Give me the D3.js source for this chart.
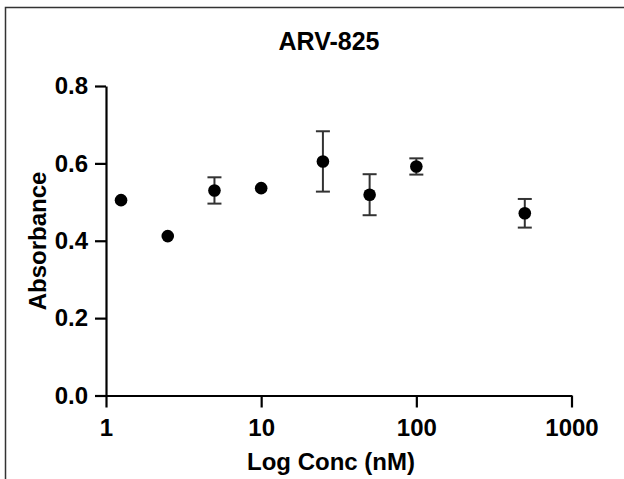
<!DOCTYPE html>
<html>
<head>
<meta charset="utf-8">
<script src="https://cdn.jsdelivr.net/npm/d3@7"></script>
<style>
  body { margin: 0; background: #fff; }
  text { font-family: "Liberation Sans", Arial, Helvetica, sans-serif; font-weight: bold; fill: #000; }
</style>
</head>
<body>
<div id="chart"></div>
<script>
// data
const conc = [1.25, 2.5, 5, 10, 25, 50, 100, 500];
const absorbance = [0.505, 0.412, 0.530, 0.536, 0.605, 0.519, 0.592, 0.471];
const sd = [0, 0, 0.034, 0, 0.078, 0.053, 0.021, 0.037];
const xTicks = [1, 10, 100, 1000];
const yTicks = [0, 0.2, 0.4, 0.6, 0.8];

const data = conc.map(function (c, i) {
  return { conc: c, mean: absorbance[i], sd: sd[i] };
});

const svg = d3.select("#chart")
  .append("svg")
  .attr("width", 624)
  .attr("height", 479);

// outer frame (runs off the right and bottom edge)
svg.append("rect")
  .attr("x", 5.5)
  .attr("y", 7.5)
  .attr("width", 640)
  .attr("height", 500)
  .attr("fill", "none")
  .attr("stroke", "#333")
  .attr("stroke-width", 1.5);

const xScale = d3.scaleLog().domain([1, 1000]).range([106, 571.5]);
const yScale = d3.scaleLinear().domain([0, 0.8]).range([395.5, 86]);

const xAxis = d3.axisBottom(xScale)
  .tickValues(xTicks)
  .tickFormat(d3.format("d"))
  .tickSize(12)
  .tickSizeOuter(0)
  .tickPadding(11);

const yAxis = d3.axisLeft(yScale)
  .tickValues(yTicks)
  .tickFormat(d3.format(".1f"))
  .tickSize(11)
  .tickSizeOuter(0)
  .tickPadding(7);

const gx = svg.append("g")
  .attr("transform", "translate(0, 395.5)")
  .call(xAxis);

const gy = svg.append("g")
  .attr("transform", "translate(106, 0)")
  .call(yAxis);

[gx, gy].forEach(function (g) {
  g.selectAll("path, line").attr("stroke", "#000").attr("stroke-width", 2.2);
  g.selectAll("text").attr("font-size", 24).attr("font-family", null);
});

// error bars
const bars = data.filter(function (d) { return d.sd > 0; });
const eb = svg.append("g")
  .attr("stroke", "#333")
  .attr("stroke-width", 2);

eb.selectAll(".stem")
  .data(bars)
  .join("line")
  .attr("x1", function (d) { return xScale(d.conc); })
  .attr("x2", function (d) { return xScale(d.conc); })
  .attr("y1", function (d) { return yScale(d.mean - d.sd); })
  .attr("y2", function (d) { return yScale(d.mean + d.sd); });

eb.selectAll(".capTop")
  .data(bars)
  .join("line")
  .attr("x1", function (d) { return xScale(d.conc) - 7; })
  .attr("x2", function (d) { return xScale(d.conc) + 7; })
  .attr("y1", function (d) { return yScale(d.mean + d.sd); })
  .attr("y2", function (d) { return yScale(d.mean + d.sd); });

eb.selectAll(".capBottom")
  .data(bars)
  .join("line")
  .attr("x1", function (d) { return xScale(d.conc) - 7; })
  .attr("x2", function (d) { return xScale(d.conc) + 7; })
  .attr("y1", function (d) { return yScale(d.mean - d.sd); })
  .attr("y2", function (d) { return yScale(d.mean - d.sd); });

// points
svg.append("g")
  .selectAll("circle")
  .data(data)
  .join("circle")
  .attr("cx", function (d) { return xScale(d.conc); })
  .attr("cy", function (d) { return yScale(d.mean); })
  .attr("r", 6.3)
  .attr("fill", "#000");

// titles
svg.append("text")
  .attr("x", 329)
  .attr("y", 50)
  .attr("text-anchor", "middle")
  .attr("font-size", 25)
  .text("ARV-825");

svg.append("text")
  .attr("x", 331)
  .attr("y", 470)
  .attr("text-anchor", "middle")
  .attr("font-size", 24)
  .text("Log Conc (nM)");

svg.append("text")
  .attr("transform", "translate(46, 241) rotate(-90)")
  .attr("text-anchor", "middle")
  .attr("font-size", 24)
  .text("Absorbance");
</script>
</body>
</html>
